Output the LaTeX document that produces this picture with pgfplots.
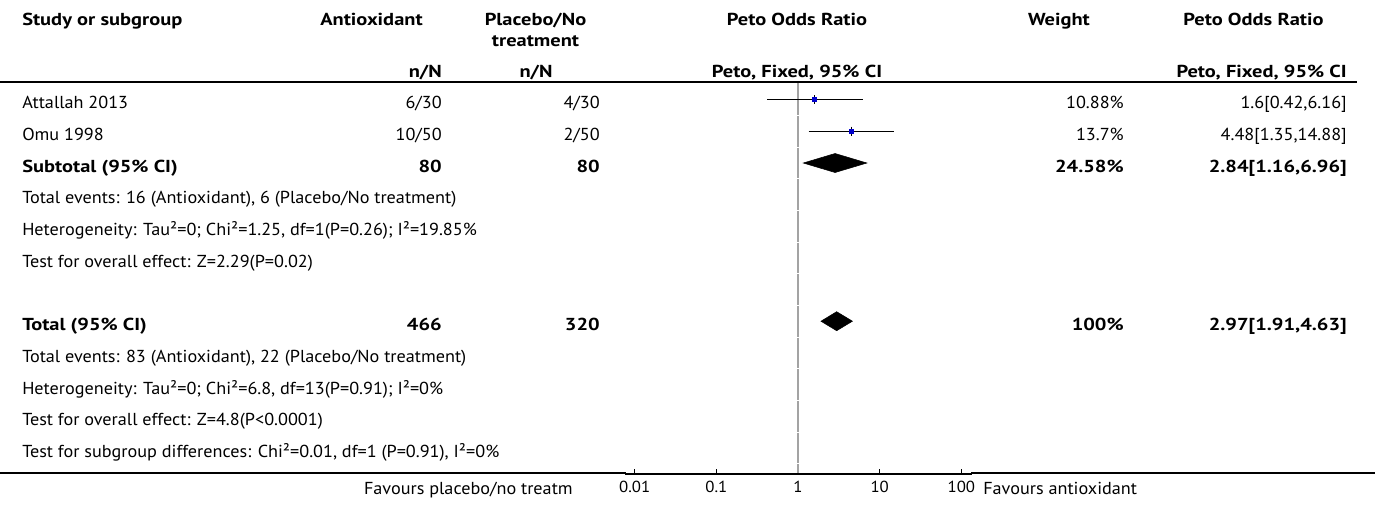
\documentclass[border=0pt]{standalone}
\usepackage{pgfplots}
\pgfplotsset{compat=1.18}
\usepackage{fontspec}
\setmainfont{PT Sans}[FakeStretch=1.05, BoldFeatures={FakeStretch=1.18}]
\definecolor{mkblue}{RGB}{0,0,204}
\definecolor{refgray}{RGB}{163,163,163}
\newcommand{\mainsize}{\fontsize{13}{15}\selectfont}
\newcommand{\ticksize}{\fontsize{12}{14}\selectfont}
\begin{document}
\begin{tikzpicture}
% forest plot
\begin{axis}[
  at={(468.75pt,-355.5pt)}, anchor=south west,
  scale only axis, width=260.25pt, height=294pt,
  xmode=log, xmin=0.0076, xmax=135,
  ymin=82, ymax=474, y dir=reverse,
  axis x line=bottom, axis y line=none,
  axis line style={-, line width=1pt, black},
  xtick={0.01,0.1,1,10,100}, xticklabels={0.01,0.1,1,10,100},
  xminorticks=false, minor xtick={},
  tick align=inside, major tick length=3.75pt,
  tick style={black, line width=0.8pt},
  xticklabel style={font=\ticksize, anchor=base, yshift=-13.5pt, inner sep=0pt},
  unbounded coords=jump,
  clip=false,
]
\addplot[refgray, line width=1.4pt] coordinates {
(1,83) (1,115)
(1,nan) (1,116) (1,146.65)
(1,nan) (1,147.65) (1,178.3)
(1,nan) (1,179.3) (1,209.95)
(1,nan) (1,210.95) (1,241.6)
(1,nan) (1,242.6) (1,273.25)
(1,nan) (1,274.25) (1,304.9)
(1,nan) (1,305.9) (1,336.55)
(1,nan) (1,337.55) (1,368.2)
(1,nan) (1,369.2) (1,399.85)
(1,nan) (1,400.85) (1,431.5)
(1,nan) (1,432.5) (1,463.15)
(1,nan) (1,464.15) (1,473)
};
% study CIs
\addplot[black, line width=1pt] coordinates {(0.42,99.7) (6.16,99.7)};
\addplot[black, line width=1pt] coordinates {(1.35,131.35) (14.88,131.35)};
\addplot[black, line width=1pt] coordinates {(1.6,95) (1.6,104.4)};
\addplot[black, line width=1pt] coordinates {(4.48,126.6) (4.48,136.1)};
\addplot[only marks, mark=square*, mark size=1.5pt, mark options={fill=mkblue, draw=mkblue}] coordinates {(1.6,99.7) (4.48,131.35)};
% diamonds
\addplot[fill=black, draw=black] coordinates {(1.16,163) (2.84,153.5) (6.96,163) (2.84,172.5)} -- cycle;
\addplot[fill=black, draw=black] coordinates {(1.91,321.2) (2.97,311.7) (4.63,321.2) (2.97,330.7)} -- cycle;
\end{axis}
\begin{scope}[x=0.75pt,y=-0.75pt,every node/.style={inner sep=0pt,font=\mainsize}]
\path[use as bounding box] (0,0) rectangle (1375,504);
% header
\node[anchor=base west,font=\mainsize\bfseries] at (22,25) {Study or subgroup};
\node[anchor=base,font=\mainsize\bfseries] at (371.5,25) {Antioxidant};
\node[anchor=base,font=\mainsize\bfseries] at (535.5,25) {Placebo/No};
\node[anchor=base,font=\mainsize\bfseries] at (535.5,46) {treatment};
\node[anchor=base,font=\mainsize\bfseries] at (797,25) {Peto Odds Ratio};
\node[anchor=base,font=\mainsize\bfseries] at (1059,25) {Weight};
\node[anchor=base,font=\mainsize\bfseries] at (1253.5,25) {Peto Odds Ratio};
\node[anchor=base east,font=\mainsize\bfseries] at (442,77) {n/N};
\node[anchor=base,font=\mainsize\bfseries] at (536,77) {n/N};
\node[anchor=base,font=\mainsize\bfseries] at (797,77) {Peto, Fixed, 95\% CI};
\node[anchor=base east,font=\mainsize\bfseries] at (1347,77) {Peto, Fixed, 95\% CI};
\draw[line width=1pt] (0,82) -- (1357,82);
% rows
\node[anchor=base west] at (22,108.8) {Attallah 2013};
\node[anchor=base east] at (442,108.8) {6/30};
\node[anchor=base east] at (600,108.8) {4/30};
\node[anchor=base east] at (1124,108.8) {10.88\%};
\node[anchor=base east] at (1347,108.8) {1.6[0.42,6.16]};
\node[anchor=base west] at (22,140.5) {Omu 1998};
\node[anchor=base east] at (442,140.5) {10/50};
\node[anchor=base east] at (600,140.5) {2/50};
\node[anchor=base east] at (1124,140.5) {13.7\%};
\node[anchor=base east] at (1347,140.5) {4.48[1.35,14.88]};
\node[anchor=base west,font=\mainsize\bfseries] at (22,172.2) {Subtotal (95\% CI)};
\node[anchor=base east,font=\mainsize\bfseries] at (442,172.2) {80};
\node[anchor=base east,font=\mainsize\bfseries] at (600,172.2) {80};
\node[anchor=base east,font=\mainsize\bfseries] at (1124,172.2) {24.58\%};
\node[anchor=base east,font=\mainsize\bfseries] at (1347,172.2) {2.84[1.16,6.96]};
\node[anchor=base west] at (22,203.9) {Total events: 16 (Antioxidant), 6 (Placebo/No treatment)};
\node[anchor=base west] at (22,235.6) {Heterogeneity: Tau²=0; Chi²=1.25, df=1(P=0.26); I²=19.85\%};
\node[anchor=base west] at (22,267.3) {Test for overall effect: Z=2.29(P=0.02)};
\node[anchor=base west,font=\mainsize\bfseries] at (22,330.7) {Total (95\% CI)};
\node[anchor=base east,font=\mainsize\bfseries] at (442,330.7) {466};
\node[anchor=base east,font=\mainsize\bfseries] at (600,330.7) {320};
\node[anchor=base east,font=\mainsize\bfseries] at (1124,330.7) {100\%};
\node[anchor=base east,font=\mainsize\bfseries] at (1347,330.7) {2.97[1.91,4.63]};
\node[anchor=base west] at (22,362.4) {Total events: 83 (Antioxidant), 22 (Placebo/No treatment)};
\node[anchor=base west] at (22,394.1) {Heterogeneity: Tau²=0; Chi²=6.8, df=13(P=0.91); I²=0\%};
\node[anchor=base west] at (22,425.8) {Test for overall effect: Z=4.8(P<0.0001)};
\node[anchor=base west] at (22,457.5) {Test for subgroup differences: Chi²=0.01, df=1 (P=0.91), I²=0\%};
\draw[line width=1pt] (0,473) -- (626,473);
\draw[line width=1pt] (971,473) -- (1375,473);
\node[anchor=base east] at (573,494) {Favours placebo/no treatm};
\node[anchor=base west] at (983,494) {Favours antioxidant};
\end{scope}
\end{tikzpicture}
\end{document}
